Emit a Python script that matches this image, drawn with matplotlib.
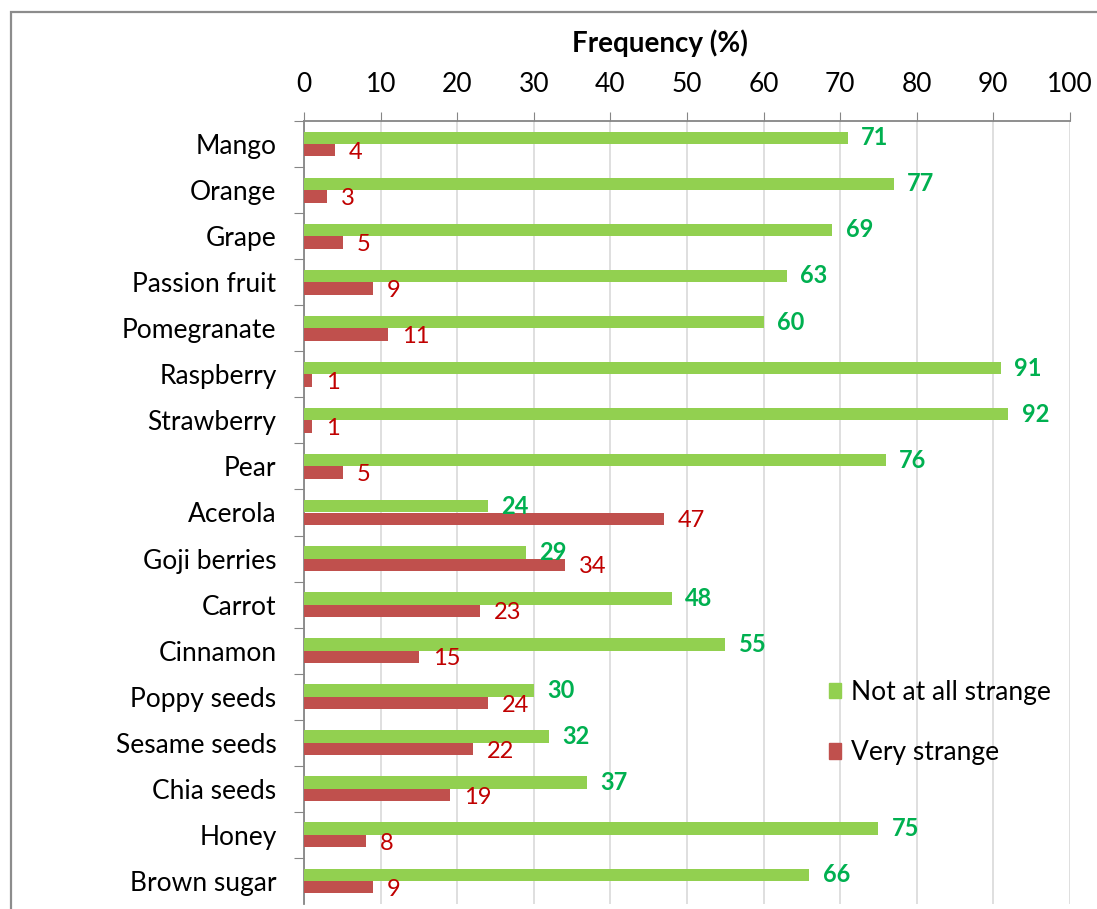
import matplotlib.pyplot as plt
from matplotlib.patches import Rectangle, Patch

plt.rcParams['font.family'] = ['Lato', 'DejaVu Sans']

categories = ['Mango', 'Orange', 'Grape', 'Passion fruit', 'Pomegranate', 'Raspberry',
              'Strawberry', 'Pear', 'Acerola', 'Goji berries', 'Carrot', 'Cinnamon',
              'Poppy seeds', 'Sesame seeds', 'Chia seeds', 'Honey', 'Brown sugar']
not_strange = [71, 77, 69, 63, 60, 91, 92, 76, 24, 29, 48, 55, 30, 32, 37, 75, 66]
very_strange = [4, 3, 5, 9, 11, 1, 1, 5, 47, 34, 23, 15, 24, 22, 19, 8, 9]
xticks = [0, 10, 20, 30, 40, 50, 60, 70, 80, 90, 100]

W, H = 1097, 909
fig = plt.figure(figsize=(W / 100, H / 100), dpi=100)
# chart border (cropped on right/bottom)
fig.patches.append(Rectangle((11 / W, -0.1), 1.2, 1 - 12 / H + 0.1, transform=fig.transFigure,
                             fill=False, edgecolor='#8c8c8c', linewidth=1.6))

ax = fig.add_axes([304.3 / W, 1 - 904 / H, (1069.7 - 304.3) / W, (904 - 121) / H])

green = '#92D050'
red = '#C0504D'
h = 0.27
ys = list(range(len(categories)))
ax.barh([y - h / 2 for y in ys], not_strange, height=h, color=green, label='Not at all strange', zorder=3)
ax.barh([y + h / 2 for y in ys], very_strange, height=h, color=red, label='Very strange', zorder=3)

for y, g, r in zip(ys, not_strange, very_strange):
    ax.annotate(str(g), (g, y - h / 2), xytext=(9.5, 0), textcoords='offset points',
                color='#00B050', fontsize=17, fontweight='bold', va='center', ha='left')
    ax.annotate(str(r), (r, y + h / 2), xytext=(10, -1.5), textcoords='offset points',
                color='#C00000', fontsize=17, va='center', ha='left')

ax.set_xlim(0, 100)
ax.set_ylim(len(categories) - 0.5, -0.5)
ax.xaxis.tick_top()
ax.xaxis.set_label_position('top')
ax.set_xticks(xticks)
ax.set_xticklabels([str(t) for t in xticks])
ax.tick_params(axis='x', length=6.5, color='#868686', labelsize=19, pad=11)
ax.set_xlabel('Frequency (%)', fontsize=20, fontweight='bold', labelpad=14)
ax.xaxis.label.set_x(0.465)

ax.set_yticks([y + 0.5 for y in ys[:-1]] + [-0.5])
ax.set_yticklabels([])
ax.set_yticks(ys, minor=True)
ax.set_yticklabels(categories, minor=True)
ax.tick_params(axis='y', which='major', length=7, color='#868686')
ax.tick_params(axis='y', which='minor', length=0, labelsize=19, pad=20)

ax.grid(axis='x', color='#D9D9D9', linewidth=1.2, zorder=0)
ax.set_axisbelow(True)
for s in ['right', 'bottom']:
    ax.spines[s].set_visible(False)
for s in ['top', 'left']:
    ax.spines[s].set_color('#868686')
    ax.spines[s].set_linewidth(1.3)

handles = [Patch(color=green), Patch(color=red)]
leg = fig.legend(handles, ['Not at all strange', 'Very strange'], loc='upper left',
                 bbox_to_anchor=(805 / W, 1 - 656 / H), frameon=False, fontsize=19,
                 handlelength=0.46, handleheight=0.5, handletextpad=0.38, labelspacing=1.35)

fig.savefig('out.png', dpi=100)
